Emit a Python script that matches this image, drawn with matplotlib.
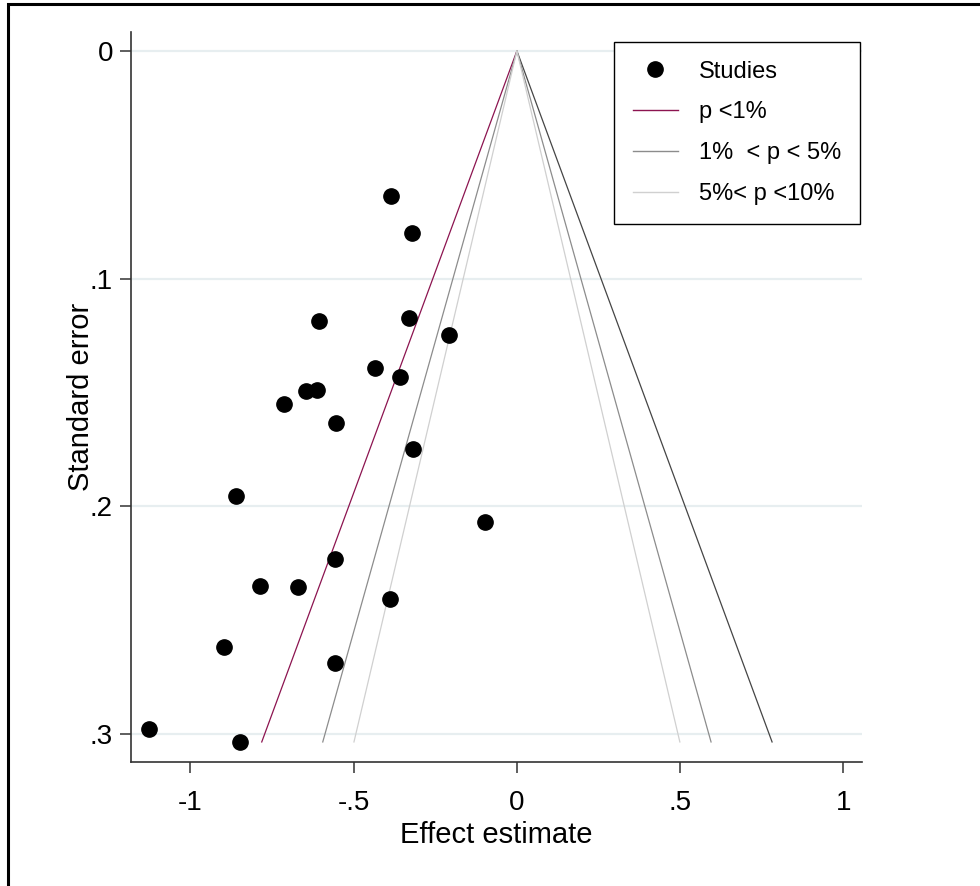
import matplotlib.pyplot as plt
from matplotlib.lines import Line2D
from matplotlib.patches import Rectangle
import numpy as np

plt.rcParams['font.family'] = ['Liberation Sans', 'DejaVu Sans']

# study estimates and standard errors
effect = [-0.386, -0.322, -0.606, -0.331, -0.209, -0.435, -0.359, -0.647,
          -0.612, -0.714, -0.553, -0.319, -0.861, -0.097, -0.558, -0.786,
          -0.669, -0.388, -0.897, -0.558, -1.128, -0.848]
se = [0.0636, 0.0801, 0.1185, 0.1173, 0.1249, 0.1392, 0.1432, 0.1491,
      0.1488, 0.1550, 0.1635, 0.1746, 0.1955, 0.2069, 0.2230, 0.2350,
      0.2352, 0.2408, 0.2616, 0.2687, 0.2978, 0.3034]

# contour z values (1%, 5%, 10%)
z_vals = [2.576, 1.960, 1.645]
left_cols = ['#8c1450', '#8c8c8c', '#d0d0d0']
right_cols = ['#454545', '#8c8c8c', '#d0d0d0']
labels = ['p <1%', '1%  < p < 5%', '5%< p <10%']

xticks = [-1, -0.5, 0, 0.5, 1]
xticklabels = ['-1', '-.5', '0', '.5', '1']
yticks = [0, 0.1, 0.2, 0.3]
yticklabels = ['0', '.1', '.2', '.3']

fig = plt.figure(figsize=(9.8, 8.86), dpi=100)
ax = fig.add_axes([131/980, 1 - 762/886, (862 - 131)/980, (762 - 32)/886])

for yt in yticks:
    ax.axhline(yt, color='#e7eef0', lw=1.6, zorder=0)

semax = max(se)
se_line = np.array([0, semax])
for z, lc, rc in zip(z_vals, left_cols, right_cols):
    ax.plot(-z * se_line, se_line, color=lc, lw=0.9, zorder=2)
    ax.plot(z * se_line, se_line, color=rc, lw=0.9, zorder=2)

ax.plot(effect, se, 'o', color='black', ms=11, zorder=3)

ax.set_xlim(-1.182, 1.057)
ax.set_ylim(0.3122, -0.0083)
ax.set_xticks(xticks)
ax.set_xticklabels(xticklabels)
ax.set_yticks(yticks)
ax.set_yticklabels(yticklabels)
ax.tick_params(direction='out', length=8, width=1.1, colors='#333333',
               labelcolor='black', labelsize=20)
ax.tick_params(axis='x', pad=12)
ax.tick_params(axis='y', pad=5)
for s in ['top', 'right']:
    ax.spines[s].set_visible(False)
for s in ['left', 'bottom']:
    ax.spines[s].set_color('#333333')
    ax.spines[s].set_linewidth(1.2)

ax.set_xlabel('Effect estimate', fontsize=21, labelpad=4)
ax.set_ylabel('Standard error', fontsize=21, labelpad=-4)

handles = [Line2D([], [], marker='o', ls='none', color='black', ms=11)]
for c in left_cols:
    handles.append(Line2D([], [], color=c, lw=1.0))
leg = ax.legend(handles, ['Studies'] + labels, loc='upper left',
                bbox_to_anchor=(614/980, 1 - 41.7/886),
                bbox_transform=fig.transFigure, borderaxespad=0,
                fancybox=False, edgecolor='black', framealpha=1,
                fontsize=17, handlelength=1.9, labelspacing=0.8,
                borderpad=0.8, handletextpad=0.9)
leg.get_frame().set_linewidth(1.0)

fig.patches.append(Rectangle((8/980, -0.1), 1.2, 1.1 - 4.5/886,
                             transform=fig.transFigure, fill=False,
                             edgecolor='black', lw=2.2))

fig.savefig('out.png', dpi=100)
